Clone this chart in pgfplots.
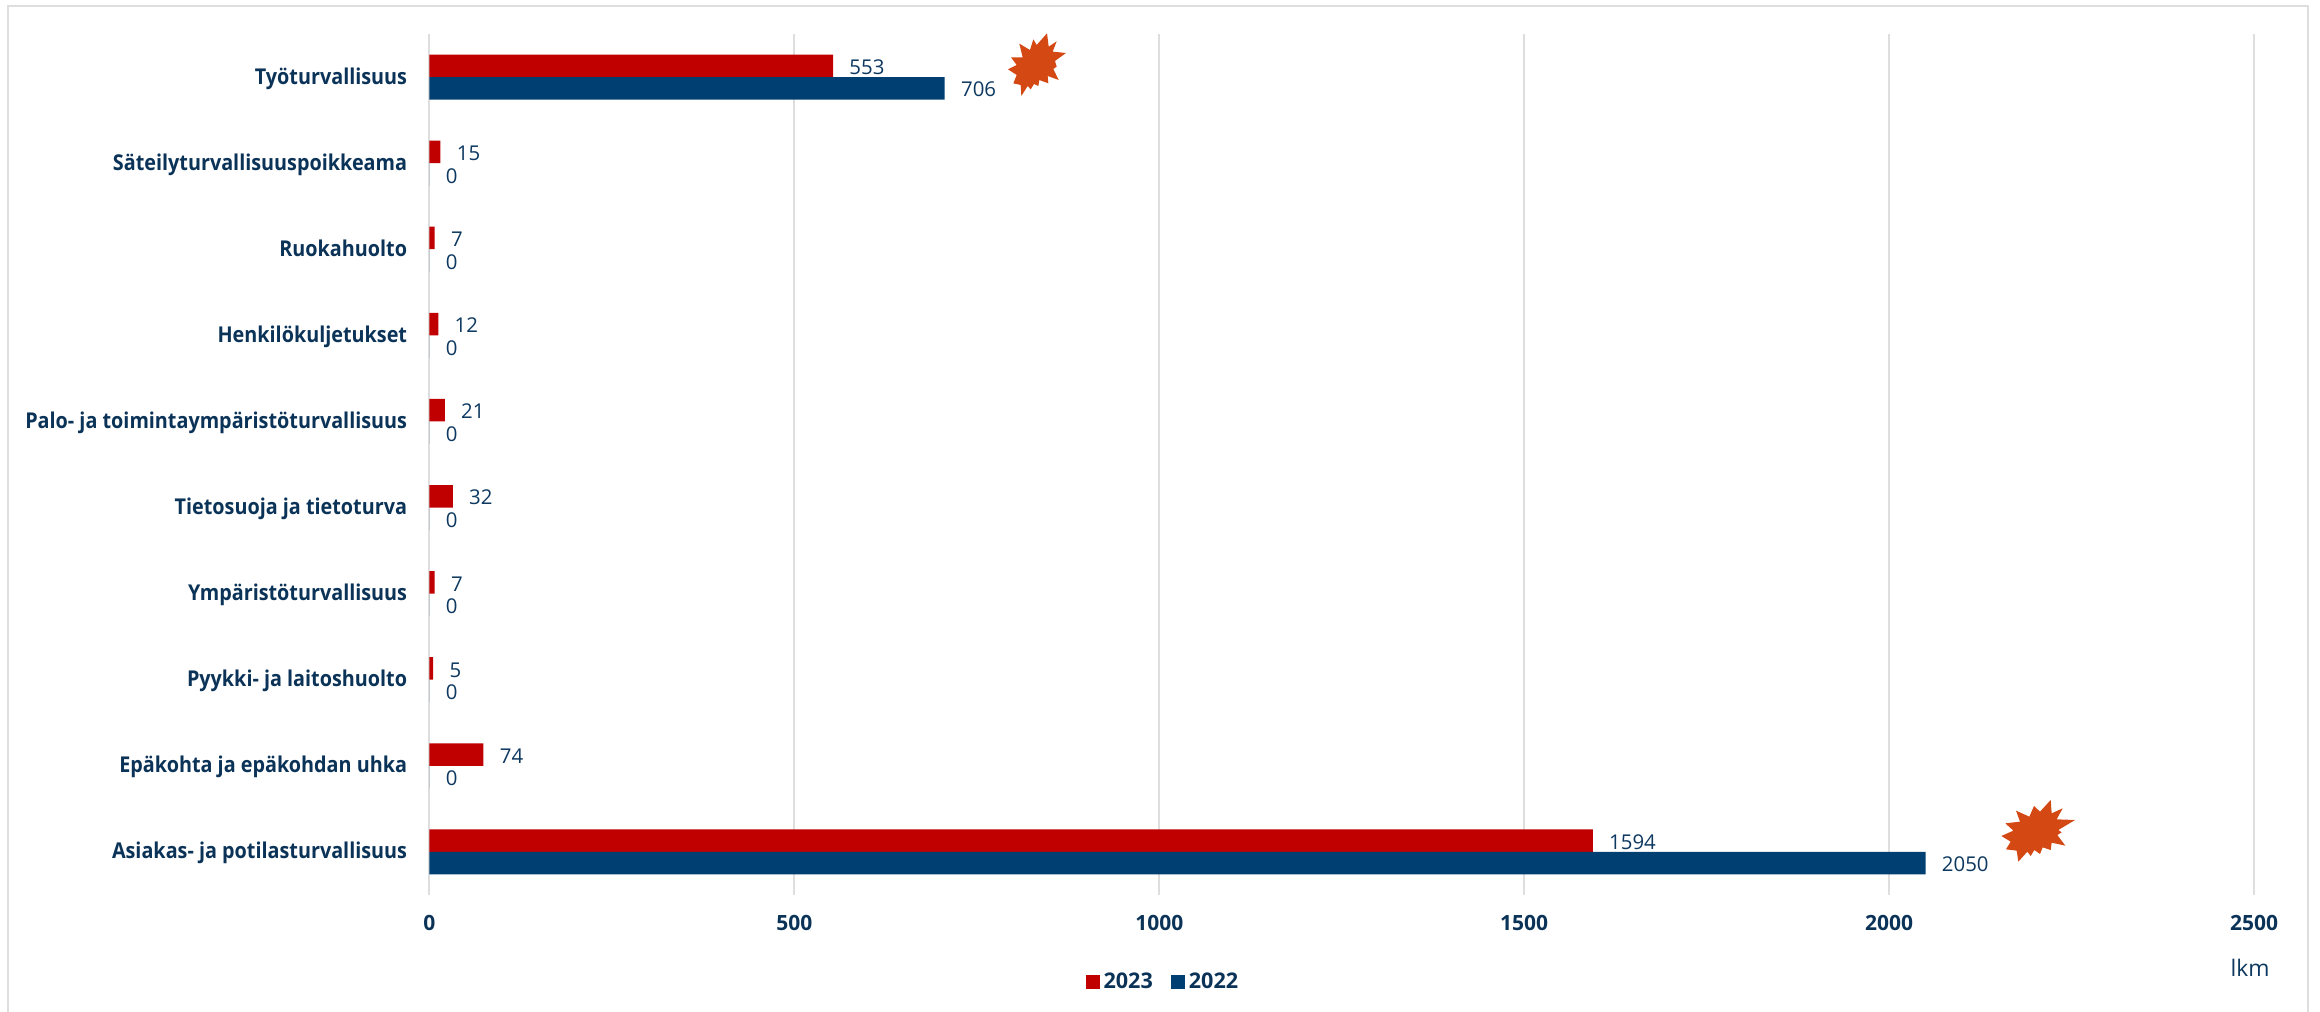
\documentclass[border=0pt]{standalone}
\usepackage{fontspec}
\setmainfont{Open Sans}
\newfontfamily\catfont[FakeStretch=0.908]{Open Sans Bold}
\usepackage{pgfplots}
\pgfplotsset{compat=1.18}
\definecolor{barred}{HTML}{C00000}
\definecolor{barblue}{HTML}{003F72}
\definecolor{navytext}{HTML}{0B3358}
\definecolor{valtext}{HTML}{0D3860}
\definecolor{gridgray}{HTML}{DEDEDE}
\definecolor{burst}{HTML}{D34813}
\begin{document}
\begin{tikzpicture}
% page frame: one unit in the scope below is half a point
\useasboundingbox (-214.75pt,-58.5pt) rectangle (945.25pt,447.5pt);
\begin{scope}[x=0.5pt,y=-0.5pt,shift={(-214.75pt,447.5pt)}]
  \draw[gridgray,line width=1.3pt] (8,1030) -- (8,6) -- (2308,6) -- (2308,1030);
\end{scope}
\begin{axis}[
  at={(0pt,0pt)},anchor=south west,
  scale only axis,width=912.25pt,height=430.5pt,
  xmin=0,xmax=2500,ymin=-0.5,ymax=9.5,
  xbar,bar width=11.25pt,
  axis line style={draw=none},
  major tick length=0pt,
  xmajorgrids,
  major grid style={gridgray,line width=1pt},
  xtick={0,500,1000,1500,2000,2500},
  ytick={0,1,2,3,4,5,6,7,8,9},
  yticklabels={Asiakas- ja potilasturvallisuus,Epäkohta ja epäkohdan uhka,Pyykki- ja laitoshuolto,Ympäristöturvallisuus,Tietosuoja ja tietoturva,Palo- ja toimintaympäristöturvallisuus,Henkilökuljetukset,Ruokahuolto,Säteilyturvallisuuspoikkeama,Työturvallisuus},
  /pgf/number format/1000 sep={},
  /pgf/number format/assume math mode=true,
  xticklabel style={font=\fontsize{10.5pt}{12pt}\selectfont\bfseries,text=navytext,inner sep=0pt,yshift=-10pt,anchor=north},
  yticklabel style={font=\catfont\fontsize{10.9pt}{12pt}\selectfont,text=navytext,inner sep=0pt,xshift=-11pt,yshift=-0.8pt,anchor=east,text height=7.6pt,text depth=2.2pt},
  nodes near coords,
  nodes near coords style={font=\fontsize{10.2pt}{12pt}\selectfont,text=valtext,inner sep=0pt,anchor=west,xshift=8pt,yshift=-0.7pt},
  clip=false,
  xlabel={lkm},
  xlabel style={at={(rel axis cs:0.9978,-0.0850)},anchor=center,font=\fontsize{11.4pt}{12pt}\selectfont,text=valtext,inner sep=0pt},
  legend columns=2,
  legend style={draw=none,fill=none,at={(rel axis cs:0.4025,-0.1010)},anchor=center,
    font=\fontsize{10.8pt}{12pt}\selectfont\bfseries,text=navytext,inner sep=0pt,
    /tikz/every even column/.append style={column sep=7pt}},
  legend cell align=left,
  legend image code/.code={\fill[#1] (0pt,-3.5pt) rectangle (7pt,3.5pt);},
]
\addplot[draw=none,fill=barred,bar shift=5.625pt] coordinates {
  (1594,0) (74,1) (5,2) (7,3) (32,4) (21,5) (12,6) (7,7) (15,8) (553,9)};
\addplot[draw=none,fill=barblue,bar shift=-5.625pt] coordinates {
  (2050,0) (0,1) (0,2) (0,3) (0,4) (0,5) (0,6) (0,7) (0,8) (706,9)};
\legend{2023,2022}
\end{axis}
% burst callouts next to the two largest rows
\begin{scope}[x=0.5pt,y=-0.5pt,shift={(-214.75pt,447.5pt)}]
  \begin{scope}[shift={(900,0)},x=0.16667pt,y=-0.16667pt]
  \fill[burst] (441,100)--(446,140)--(470,124)--(458,155)--(498,159)--(465,183)--(470,200)--(460,207)--(476,240)--(443,228)--(445,250)--(418,240)--(415,258)--(402,252)--(392,268)--(383,258)--(364,288)--(362,255)--(340,250)--(350,225)--(324,208)--(350,195)--(333,172)--(368,172)--(358,131)--(390,150)--(400,118)--(410,135)--cycle;
  \end{scope}
  \begin{scope}[shift={(1900,760)},x=0.16667pt,y=-0.16667pt]
  \fill[burst] (452,120)--(455,160)--(488,145)--(470,178)--(525,180)--(475,210)--(485,217)--(472,225)--(496,257)--(455,248)--(452,270)--(428,262)--(420,282)--(403,270)--(392,288)--(382,275)--(355,305)--(350,272)--(318,268)--(332,245)--(304,228)--(340,212)--(316,190)--(360,185)--(348,152)--(388,170)--(402,138)--(420,155)--cycle;
  \end{scope}
\end{scope}
\end{tikzpicture}
\end{document}
